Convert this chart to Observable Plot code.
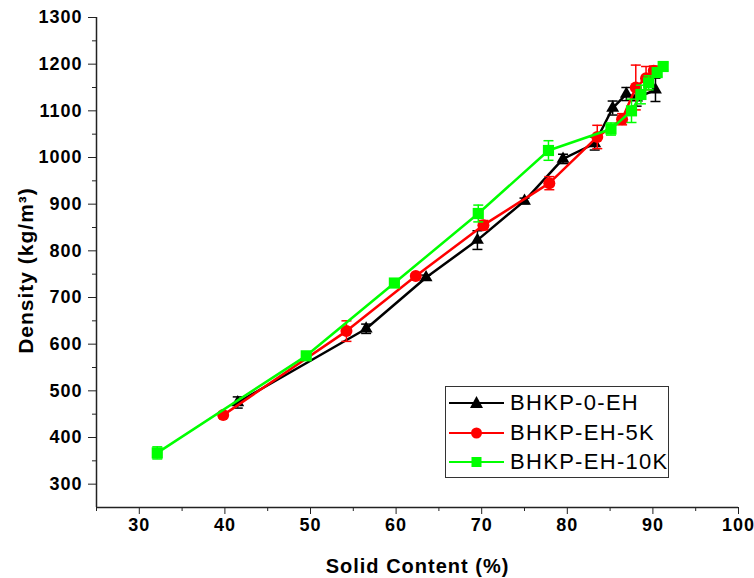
<!DOCTYPE html>
<html><head><meta charset="utf-8">
<script src="https://cdn.jsdelivr.net/npm/d3@7"></script>
<script src="https://cdn.jsdelivr.net/npm/@observablehq/plot@0.6"></script>
<style>
body{margin:0;background:#fff;}
#wrap{position:relative;width:754px;height:578px;}
.legend{position:absolute;left:445px;top:386px;width:222px;height:90px;border:1px solid #333;background:#fff;font-family:"Liberation Sans",Arial,sans-serif;}
.row{position:absolute;left:0;height:30px;width:222px;}
.row svg{position:absolute;left:0;top:0;}
.row span{position:absolute;left:64px;top:1px;font-size:22px;letter-spacing:1.3px;line-height:28px;color:#000;white-space:nowrap;}
</style></head>
<body><div id="wrap"></div>
<script>
const seriesNames = ["BHKP-0-EH", "BHKP-EH-5K", "BHKP-EH-10K"];
const seriesColors = ["#000000", "#ff0000", "#00ff00"];
const seriesSymbols = ["triangle", "circle", "square"];

// BHKP-0-EH
const solid0   = [41.5, 56.5, 63.5, 69.5, 75.0, 79.5, 83.2, 85.3, 86.9, 88.1, 90.3];
const density0 = [475, 633, 743, 823, 907, 997, 1030, 1106, 1136, 1128, 1145];
const err0     = [12, 10, 5, 20, 6, 10, 14, 15, 14, 18, 25];
// BHKP-EH-5K
const solid5   = [39.8, 54.2, 62.3, 70.2, 77.9, 83.5, 86.4, 88.0, 89.2, 90.1];
const density5 = [448, 628, 746, 855, 945, 1044, 1082, 1150, 1170, 1186];
const err5     = [6, 22, 5, 10, 14, 25, 12, 48, 25, 10];
// BHKP-EH-10K
const solid10   = [32.1, 49.5, 59.8, 69.6, 77.8, 85.1, 87.5, 88.6, 89.5, 90.5, 91.2];
const density10 = [367, 575, 731, 880, 1015, 1061, 1100, 1135, 1160, 1182, 1195];
const err10     = [13, 8, 5, 18, 21, 13, 25, 20, 15, 8, 8];

const xTicks = [30, 40, 50, 60, 70, 80, 90, 100];
const xMinor = [25, 35, 45, 55, 65, 75, 85, 95];
const yTicks = [300, 400, 500, 600, 700, 800, 900, 1000, 1100, 1200, 1300];
const yMinor = [350, 450, 550, 650, 750, 850, 950, 1050, 1150, 1250];
const xTitle = "Solid Content (%)";
const yTitle = "Density (kg/m³)";

const allSeries = [
  [solid0, density0, err0],
  [solid5, density5, err5],
  [solid10, density10, err10]
];

const capSymbol = {
  draw(context, size) {
    const w = Math.sqrt(size / Math.PI);
    context.moveTo(-w, 0);
    context.lineTo(w, 0);
  }
};
const symbolR = {triangle: 4.8, circle: 6, square: 6.3};

const marks = [];
allSeries.forEach(([xs, ys, es], i) => {
  const rows = xs.map((x, j) => ({x, y: ys[j], lo: ys[j] - es[j], hi: ys[j] + es[j]}));
  const c = seriesColors[i];
  marks.push(Plot.line(rows, {x: "x", y: "y", stroke: c, strokeWidth: 2.5}));
  marks.push(Plot.ruleX(rows, {x: "x", y1: "lo", y2: "hi", stroke: c, strokeWidth: 1.5}));
  marks.push(Plot.dot(rows, {x: "x", y: "lo", symbol: capSymbol, r: 5, stroke: c, strokeWidth: 1.5}));
  marks.push(Plot.dot(rows, {x: "x", y: "hi", symbol: capSymbol, r: 5, stroke: c, strokeWidth: 1.5}));
  marks.push(Plot.dot(rows, {x: "x", y: "y", symbol: seriesSymbols[i], r: symbolR[seriesSymbols[i]], fill: c, stroke: "none"}));
});

const chart = Plot.plot({
  width: 754,
  height: 578,
  marginLeft: 96,
  marginRight: 16,
  marginTop: 17,
  marginBottom: 71,
  style: {fontFamily: "'Liberation Sans', Arial, sans-serif", color: "#000", background: "#fff", overflow: "visible"},
  x: {domain: [25, 100], axis: null},
  y: {domain: [250, 1300], axis: null},
  marks: [
    Plot.axisX(xTicks, {tickSize: 7, tickPadding: 4, fontSize: 18, fontWeight: "bold", label: null, stroke: "#222", tickFormat: d => String(d)}),
    Plot.axisX(xMinor, {tickSize: 4, tickFormat: () => "", label: null, stroke: "#222"}),
    Plot.axisY(yTicks, {tickSize: 8, tickPadding: 6, fontSize: 18, fontWeight: "bold", label: null, stroke: "#222", tickFormat: d => String(d)}),
    Plot.axisY(yMinor, {tickSize: 4, tickFormat: () => "", label: null, stroke: "#222"}),
    Plot.ruleY([250], {stroke: "#222", strokeWidth: 1.5}),
    Plot.ruleX([25], {stroke: "#222", strokeWidth: 1.5}),
    ...marks,
    Plot.text([xTitle], {text: d => d, frameAnchor: "bottom", dy: 65, fontSize: 20, fontWeight: "bold"}),
    Plot.text([yTitle], {text: d => d, frameAnchor: "left", textAnchor: "middle", dx: -70, dy: 8, rotate: -90, fontSize: 21, fontWeight: "bold"})
  ]
});
chart.querySelectorAll("text").forEach(t => t.style.letterSpacing = "1px");
const wrap = document.getElementById("wrap");
wrap.appendChild(chart);

// legend
const legend = document.createElement("div");
legend.className = "legend";
const rowTops = [1, 31, 60];
seriesNames.forEach((name, i) => {
  const row = document.createElement("div");
  row.className = "row";
  row.style.top = rowTops[i] + "px";
  const c = seriesColors[i];
  let marker;
  if (seriesSymbols[i] === "triangle") marker = `<path d="M30.5,8 L37,20 L24,20 Z" fill="${c}"/>`;
  else if (seriesSymbols[i] === "circle") marker = `<circle cx="30.5" cy="15" r="5.5" fill="${c}"/>`;
  else marker = `<rect x="25.5" y="10" width="10" height="10" fill="${c}"/>`;
  row.innerHTML = `<svg width="62" height="30"><line x1="3" x2="58" y1="15" y2="15" stroke="${c}" stroke-width="2.2"/>${marker}</svg><span>${name}</span>`;
  legend.appendChild(row);
});
wrap.appendChild(legend);
</script>
</body></html>
